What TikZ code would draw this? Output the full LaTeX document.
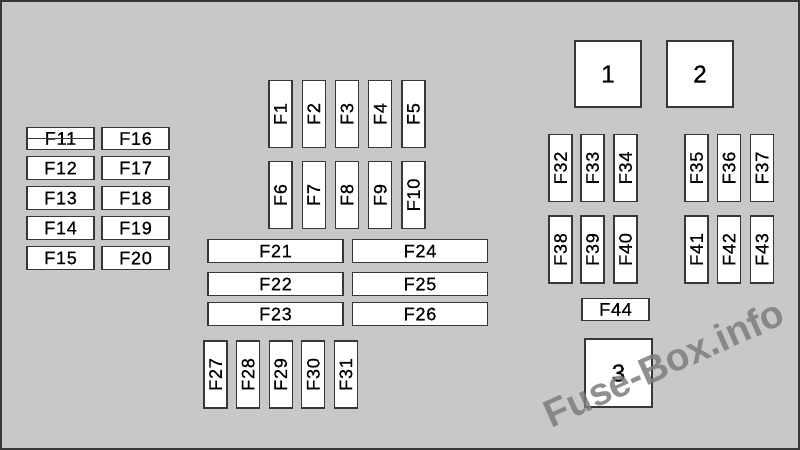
\documentclass[tikz,border=0pt]{standalone}
\usepackage{fontspec}
\setmainfont{Liberation Sans}
\newfontfamily\fusefont[LetterSpace=4, FakeBold=0.6]{Liberation Sans}
\usepackage{xcolor}
\usetikzlibrary{positioning}

\definecolor{panelgray}{RGB}{200,200,200}
\definecolor{edgegray}{RGB}{55,55,55}
\definecolor{markgray}{RGB}{125,125,125}

\begin{document}
\begin{tikzpicture}[
  x=0.03cm, y=-0.03cm,
  every node/.style={font=\fusefont\fontsize{15.5}{18}\selectfont},
  fusebox/.style={draw=edgegray, fill=white, line width=1.1pt, inner sep=0pt, outer sep=0pt},
  hfuse/.style={fusebox, minimum width=2.01cm, minimum height=0.67cm},
  lfuse/.style={fusebox, minimum width=4.05cm, minimum height=0.67cm},
  vfuse/.style={fusebox, minimum width=0.69cm, minimum height=2.01cm},
  relay/.style={fusebox, minimum width=1.98cm, minimum height=1.98cm,
    font=\fusefont\fontsize{21}{24}\selectfont},
]

%% ── Panel ────────────────────────────────────────────────────────────────
\fill[panelgray] (0,0) rectangle (800,450);
\draw[edgegray, line width=1.6pt] (1,1) rectangle (799,449);
\useasboundingbox (0,0) rectangle (800,450);

%% ── Left block F11--F20 ──────────────────────────────────────────────────
\foreach \n/\y in {11/138.5, 12/168, 13/198, 14/228, 15/258} {
  \node[hfuse] (f\n) at (60.5,\y) {F\n};
}
\foreach \n/\y in {16/138.5, 17/168, 18/198, 19/228, 20/258} {
  \node[hfuse] (f\n) at (135.5,\y) {F\n};
}
%% F11 is struck through
\draw[edgegray, line width=0.6pt] (f11.west) -- (f11.east);

%% ── Centre block ─────────────────────────────────────────────────────────
\foreach \n [count=\i from 0] in {1,...,5} {
  \node[vfuse] (f\n) at ({280.5+33.25*\i},114) {\rotatebox{90}{F\n}};
}
\foreach \n [count=\i from 0] in {6,...,10} {
  \node[vfuse] (f\n) at ({280.5+33.25*\i},195) {\rotatebox{90}{F\n}};
}

\foreach \n/\y in {21/251, 22/284, 23/314} {
  \node[lfuse] (f\n) at (275.5,\y) {F\n};
}
\foreach \n/\y in {24/251, 25/284, 26/314} {
  \node[lfuse] (f\n) at (420,\y) {F\n};
}

\foreach \n [count=\i from 0] in {27,...,31} {
  \node[vfuse] (f\n) at ({215.5+32.6*\i},374.5) {\rotatebox{90}{F\n}};
}

%% ── Right block ──────────────────────────────────────────────────────────
\node[relay] (r1) at (608,74) {1};
\node[relay] (r2) at (700,74) {2};

\foreach \n/\x in {32/560.5, 33/592.5, 34/625.5, 35/696.5, 36/729, 37/762} {
  \node[vfuse] (f\n) at (\x,168) {\rotatebox{90}{F\n}};
}
\foreach \n/\x in {38/560.5, 39/592.5, 40/625.5, 41/696.5, 42/729, 43/762} {
  \node[vfuse] (f\n) at (\x,249.5) {\rotatebox{90}{F\n}};
}

\node[hfuse] (f44) at (615.5,309.5) {F44};
\node[relay, minimum width=2.01cm, minimum height=2.04cm] (r3) at (618.5,373) {3};

%% ── Watermark ────────────────────────────────────────────────────────────
\node[font=\bfseries\fontsize{33}{36}\selectfont, text=markgray, opacity=0.85,
  rotate=24] (mark) at (664,363) {Fuse-Box.info};

\end{tikzpicture}
\end{document}
